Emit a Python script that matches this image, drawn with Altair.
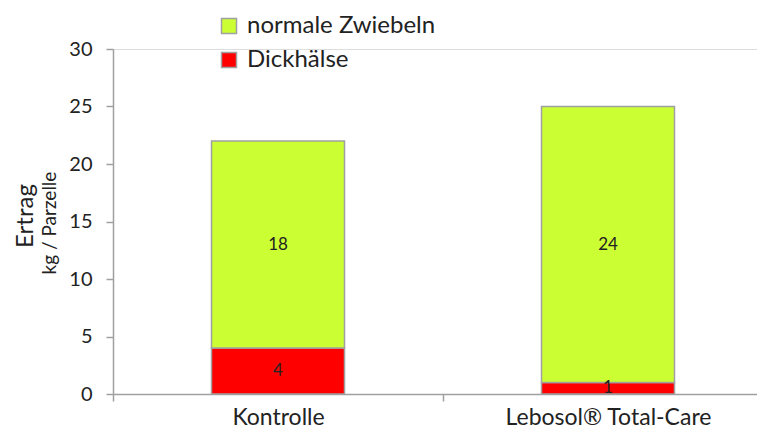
import altair as alt
import pandas as pd

categories = ["Kontrolle", "Lebosol® Total-Care"]
series = ["normale Zwiebeln", "Dickhälse"]
normale = [18, 24]
dick = [4, 1]
colors = ["#CCFF33", "#FF0000"]

rows = []
for i, c in enumerate(categories):
    rows.append({"cat": c, "serie": series[1], "val": dick[i], "ord": 0})
    rows.append({"cat": c, "serie": series[0], "val": normale[i], "ord": 1})
df = pd.DataFrame(rows)

FONT = "Lato"
GRAY = "#A0A0A0"
TXT = "#222222"

base = alt.Chart(df)

bars = base.mark_bar(size=133, stroke=GRAY, strokeWidth=1.5).encode(
    x=alt.X("cat:N", sort=categories, title=None,
            scale=alt.Scale(paddingInner=0, paddingOuter=0, range=[0, 660]),
            axis=alt.Axis(labelAngle=0, labelFont=FONT, labelFontSize=23, labelColor=TXT,
                          labelPadding=5, labelLimit=400, tickBand="extent", tickColor=GRAY,
                          tickSize=7, domainColor=GRAY, domainWidth=1.5, tickWidth=1.5)),
    y=alt.Y("val:Q", stack="zero", title=None,
            scale=alt.Scale(domain=[0, 30], nice=False),
            axis=alt.Axis(values=[0, 5, 10, 15, 20, 25, 30], grid=False, labelFont=FONT,
                          labelFontSize=20, labelColor=TXT, tickColor=GRAY, tickSize=7,
                          domainColor=GRAY, domainWidth=1.5, tickWidth=1.5, labelPadding=14)),
    color=alt.Color("serie:N", scale=alt.Scale(domain=series, range=colors), title=None,
                    legend=alt.Legend(orient="none", legendX=104, legendY=-35,
                                      symbolType="square", symbolSize=225,
                                      symbolStrokeColor=GRAY, symbolStrokeWidth=1.5,
                                      labelFont=FONT, labelFontSize=24, labelColor=TXT,
                                      labelLimit=400, rowPadding=10, labelOffset=6)),
    order=alt.Order("ord:Q"),
)

labels = base.mark_text(font=FONT, fontSize=17, color=TXT).encode(
    x=alt.X("cat:N", sort=categories),
    y=alt.Y("mid:Q"),
    text=alt.Text("val:Q"),
).transform_stack(
    stack="val", groupby=["cat"], as_=["v0", "v1"], sort=[alt.SortField("ord")]
).transform_calculate(mid="(datum.v0 + datum.v1) / 2")

title_df = pd.DataFrame({"t": ["Ertrag"], "s": ["kg / Parzelle"]})
t1 = alt.Chart(title_df).mark_text(angle=270, font=FONT, fontSize=24, color=TXT).encode(
    x=alt.value(-87), y=alt.value(167), text="t:N")
t2 = alt.Chart(title_df).mark_text(angle=270, font=FONT, fontSize=19, color=TXT).encode(
    x=alt.value(-63), y=alt.value(174), text="s:N")

chart = alt.layer(bars, labels, t1, t2).properties(
    width=644, height=345,
    autosize=alt.AutoSizeParams(type="none"),
    padding={"left": 105, "top": 41, "right": 0, "bottom": 36},
).configure_view(stroke=None).configure(background="white")

chart.save("out.html", embed_options={"renderer": "svg", "actions": False})
